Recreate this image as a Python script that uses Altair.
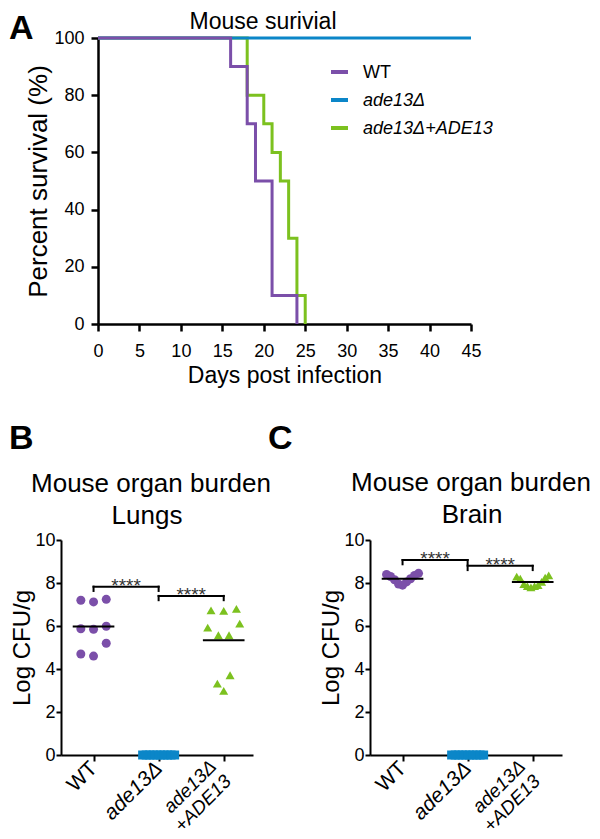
import altair as alt
import pandas as pd

FONT = "Liberation Sans"
PURPLE = "#7B4FA9"
BLUE = "#0B86C8"
GREEN = "#7CC11F"

GROUPS = ["WT", "ade13Δ", "ade13Δ+ADE13"]
COLORS = [PURPLE, BLUE, GREEN]
SHAPES = ["circle", "square", "triangle-up"]

# ---------------- Panel A: survival ----------------
wt_days = [0, 16, 18, 19, 21, 24]
wt_surv = [100, 90, 70, 50, 10, 0]
ko_days = [0, 45]
ko_surv = [100, 100]
comp_days = [0, 18, 20, 21, 22, 23, 24, 25]
comp_surv = [100, 80, 70, 60, 50, 30, 10, 0]
day_ticks = [0, 5, 10, 15, 20, 25, 30, 35, 40, 45]
surv_ticks = [0, 20, 40, 60, 80, 100]

# ---------------- Panels B / C: organ burden (log CFU/g) ----------------
lung_wt = [7.24, 7.12, 7.20, 5.87, 5.85, 5.99, 5.20, 4.60, 4.70]
lung_ko = [0, 0, 0, 0, 0, 0, 0, 0, 0, 0]
lung_comp = [6.73, 6.70, 6.80, 5.92, 6.11, 5.57, 5.57, 3.71, 3.32, 2.98]
brain_wt = [8.45, 8.40, 8.35, 8.30, 8.20, 8.15, 8.05, 7.95, 7.90]
brain_ko = [0, 0, 0, 0, 0, 0, 0, 0, 0, 0]
brain_comp = [8.35, 8.30, 8.25, 8.20, 8.05, 7.95, 7.90, 7.85, 7.80, 7.85]
cfu_ticks = [0, 2, 4, 6, 8, 10]
stars = "****"
# comparisons: group index from, group index to, bracket height (log CFU/g)
lung_brackets = [[0, 1, 7.83], [1, 2, 7.40]]
brain_brackets = [[0, 1, 9.07], [1, 2, 8.80]]

TITLE_A = "Mouse surivial"
TITLE_ORGAN = "Mouse organ burden"

# ---------------- layout constants ----------------
A_W, A_H = 373, 286
O_W, O_H = 192, 215
X_DOM = [-0.5, 2.45]
Y_PX = O_H / 10.0
X_PX = O_W / (X_DOM[1] - X_DOM[0])
ROW_PX, GAP_PX, MAXHALF_PX = 13.5, 12.7, 16.0

cscale = alt.Scale(domain=GROUPS, range=COLORS)
sscale = alt.Scale(domain=GROUPS, range=SHAPES)


def swarm(vals):
    """Prism-like scatter layout: bin close values into rows, spread each row."""
    order = sorted(range(len(vals)), key=lambda i: -vals[i])
    rows, cur = [], []
    for i in order:
        if cur and (vals[cur[0]] - vals[i]) * Y_PX > ROW_PX:
            rows.append(cur)
            cur = []
        cur.append(i)
    rows.append(cur)
    offs = [0.0] * len(vals)
    for row in rows:
        n = len(row)
        gap = GAP_PX if n < 2 else min(GAP_PX, 2 * MAXHALF_PX / (n - 1))
        slots = sorted([k - (n - 1) / 2 for k in range(n)], key=lambda s: (abs(s), s))
        for i, s in zip(sorted(row, key=lambda j: vals[j]), slots):
            offs[i] = s * gap / X_PX
    return offs


def label(txt, x, y, size, weight="normal", style="normal", align="left", color="black"):
    return alt.Chart(pd.DataFrame({"t": [txt]})).mark_text(
        fontSize=size, fontWeight=weight, fontStyle=style, align=align,
        baseline="alphabetic", font=FONT, color=color
    ).encode(text="t:N", x=alt.value(x), y=alt.value(y))


# ---------------- Panel A ----------------
surv_df = pd.concat([
    pd.DataFrame({"group": GROUPS[0], "day": wt_days, "surv": wt_surv}),
    pd.DataFrame({"group": GROUPS[1], "day": ko_days, "surv": ko_surv}),
    pd.DataFrame({"group": GROUPS[2], "day": comp_days, "surv": comp_surv}),
], ignore_index=True)

xA = alt.X("day:Q", scale=alt.Scale(domain=[0, 45], nice=False, zero=False),
           axis=alt.Axis(values=day_ticks, title="Days post infection", titleFontSize=23,
                         labelFontSize=18, tickSize=7, tickWidth=2.5, domainWidth=2.5,
                         labelPadding=11, titlePadding=4, labelFlush=False))
yA = alt.Y("surv:Q", scale=alt.Scale(domain=[0, 100], nice=False),
           axis=alt.Axis(values=surv_ticks, title="Percent survival (%)", titleFontSize=26,
                         labelFontSize=18, tickSize=7, tickWidth=2.5, domainWidth=2.5,
                         labelPadding=7, titlePadding=2))


def surv_line(g):
    return alt.Chart(surv_df).transform_filter(alt.datum.group == g).mark_line(
        interpolate="step-after", strokeWidth=3
    ).encode(x=xA, y=yA, color=alt.Color("group:N", scale=cscale, legend=None))


def legend_entry(i):
    y = 34 + 28 * i
    sym = alt.Chart(pd.DataFrame({"group": [GROUPS[i]]})).mark_rule(
        strokeWidth=4, color=COLORS[i]
    ).encode(x=alt.value(233), x2=alt.value(250), y=alt.value(y))
    txt = alt.Chart(pd.DataFrame({"group": [GROUPS[i]]})).mark_text(
        fontSize=18, fontStyle="normal" if i == 0 else "italic", align="left",
        baseline="middle", font=FONT, color="black"
    ).encode(text="group:N", x=alt.value(265), y=alt.value(y + 1))
    return [sym, txt]


panelA = alt.layer(
    surv_line(GROUPS[2]), surv_line(GROUPS[1]), surv_line(GROUPS[0]),
    *legend_entry(0), *legend_entry(1), *legend_entry(2),
    label(TITLE_A, 165, -9, 23, align="center"),
).properties(width=A_W, height=A_H)


# ---------------- Panels B / C ----------------
def organ_panel(organ, vals_list, brackets, t1x, t2x, ty):
    rows = []
    for gi, vals in enumerate(vals_list):
        for v, o in zip(vals, swarm(vals)):
            rows.append({"group": GROUPS[gi], "gi": gi, "value": v, "xpos": gi + o})
    pts = pd.DataFrame(rows)
    br = pd.DataFrame(brackets, columns=["x1", "x2", "h"])

    xs = alt.Scale(domain=X_DOM, nice=False, zero=False)
    ys = alt.Scale(domain=[0, 10], nice=False)
    xaxis = alt.Axis(values=[0, 1, 2], title=None, labelAngle=-45, labelAlign="right",
                     labelBaseline="middle", labelLineHeight=21,
                     labelFontSize={"condition": {"test": "datum.value == 2", "value": 19},
                                    "value": 21},
                     labelExpr="datum.value == 0 ? 'WT' : datum.value == 1 ? 'ade13Δ' : ['ade13Δ', '+ADE13']",
                     labelFontStyle={"condition": {"test": "datum.value == 0", "value": "normal"},
                                     "value": "italic"},
                     labelOffset={"condition": {"test": "datum.value == 2", "value": -11},
                                  "value": 0},
                     labelPadding={"condition": {"test": "datum.value == 2", "value": 2},
                                   "value": 4},
                     labelOverlap=False, labelFlush=False, labelBound=False,
                     tickSize=6, tickWidth=2, domainWidth=2)
    yaxis = alt.Axis(values=cfu_ticks, title="Log CFU/g", titleFontSize=24,
                     labelFontSize=18, tickSize=5, tickWidth=2, domainWidth=2,
                     labelPadding=1, titlePadding=0)

    def X(f):
        return alt.X(f + ":Q", scale=xs, axis=xaxis)

    def Y(f):
        return alt.Y(f + ":Q", scale=ys, axis=yaxis)

    points = alt.Chart(pts).mark_point(filled=True, size=81, opacity=1).encode(
        x=X("xpos"), y=Y("value"),
        color=alt.Color("group:N", scale=cscale, legend=None),
        shape=alt.Shape("group:N", scale=sscale, legend=None),
    )
    means = alt.Chart(pts).transform_filter("datum.gi != 1").transform_aggregate(
        m="mean(value)", groupby=["gi"]
    ).transform_calculate(a="datum.gi - 0.32", b="datum.gi + 0.32").mark_rule(
        color="black", strokeWidth=2
    ).encode(x=X("a"), x2="b:Q", y=Y("m"))

    brc = alt.Chart(br).transform_calculate(lo="datum.h - 0.2", xm="(datum.x1 + datum.x2) / 2")
    hline = brc.mark_rule(color="black", strokeWidth=2, strokeCap="square").encode(
        x=X("x1"), x2="x2:Q", y=Y("h"))
    ltick = brc.mark_rule(color="black", strokeWidth=2, strokeCap="square").encode(
        x=X("x1"), y=Y("h"), y2="lo:Q")
    rtick = brc.mark_rule(color="black", strokeWidth=2, strokeCap="square").encode(
        x=X("x2"), y=Y("h"), y2="lo:Q")
    star = brc.mark_text(text=stars, fontSize=19, color="#333333", baseline="alphabetic",
                         dy=5, font=FONT).encode(x=X("xm"), y=Y("h"))

    return alt.layer(
        points, means, hline, ltick, rtick, star,
        label(TITLE_ORGAN, t1x, ty, 26, align="center"),
        label(organ, t2x, ty + 32, 26, align="center"),
    ).properties(width=O_W, height=O_H)


panelB = organ_panel("Lungs", [lung_wt, lung_ko, lung_comp], lung_brackets, 90, 86, -48)
panelC = organ_panel("Brain", [brain_wt, brain_ko, brain_comp], brain_brackets, 101, 102, -49)

# spacer carries the panel letters; its origin is panel B's left edge at panel A's top
spacer = alt.layer(
    alt.Chart(pd.DataFrame({"s": [0]})).mark_point(opacity=0).encode(
        x=alt.value(0), y=alt.value(0)),
    label("A", -52, 1, 34, weight="bold"),
    label("B", -52, 411, 34, weight="bold"),
    label("C", 207, 411, 34, weight="bold"),
).properties(width=1, height=1)

top = alt.hconcat(spacer, panelA, spacing=36, bounds="flush")
bottom = alt.hconcat(panelB, panelC, spacing=117, bounds="flush")

chart = alt.vconcat(top, bottom, spacing=502, bounds="flush").resolve_scale(
    color="independent", shape="independent"
).properties(
    padding={"left": 0, "top": 2, "right": 0, "bottom": 6}
).configure(font=FONT).configure_view(stroke="transparent").configure_axis(
    grid=False, labelColor="black", titleColor="black", domainColor="black",
    tickColor="black", titleFontWeight="normal", labelFont=FONT, titleFont=FONT
)

chart.save("out.html", embed_options={"renderer": "svg", "actions": False})
